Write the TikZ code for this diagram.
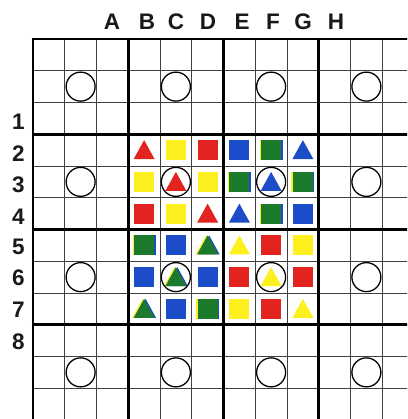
\documentclass[tikz,border=0pt]{standalone}
\usepackage{fontspec}
\setmainfont{Liberation Sans}
\definecolor{rd}{HTML}{E3231F}
\definecolor{yl}{HTML}{FDF01E}
\definecolor{bl}{HTML}{1D4CC9}
\definecolor{gn}{HTML}{1B7A2B}
\newcommand\SetCell[2]{\pgfmathsetmacro\px{33+31.75*(#1+0.5)}\pgfmathsetmacro\py{39+31.75*(#2+0.5)}}
\newcommand\Sq[3]{\SetCell{#1}{#2}\fill[#3,shift={(\px,\py)}] (-10,-10) rectangle (10,10);}
\newcommand\Tr[3]{\SetCell{#1}{#2}\fill[#3,shift={(\px,\py)}] (-10.5,9) -- (10.5,9) -- (0,-10) -- cycle;}
\newcommand\GSq[2]{\SetCell{#1}{#2}%
 \fill[yl,shift={(\px,\py)}] (-11.5,-10) rectangle (8.5,10);
 \fill[bl,shift={(\px,\py)}] (-8.5,-10) rectangle (11.5,10);
 \fill[gn,shift={(\px,\py)}] (-10,-10) rectangle (10,10);}
\newcommand\GTr[2]{\SetCell{#1}{#2}%
 \fill[yl,shift={(\px,\py)}] (-12,9) -- (9,9) -- (-1.5,-10) -- cycle;
 \fill[bl,shift={(\px,\py)}] (-9,9) -- (12,9) -- (1.5,-10) -- cycle;
 \fill[gn,shift={(\px,\py)}] (-10.5,9) -- (10.5,9) -- (0,-10) -- cycle;}
\tikzset{
 thinline/.style={line width=0.9pt,black!75},
 thickline/.style={line width=2.8pt,black},
 ring/.style={draw=black,line width=1.3pt},
 lab/.style={font=\fontsize{22.5}{22.5}\selectfont\bfseries,inner sep=0pt,text=black!90}
}
\begin{document}
\begin{tikzpicture}[x=1pt,y=-1pt]
\useasboundingbox (0,0) rectangle (407,419);
\fill[white] (0,0) rectangle (407,419);
\begin{scope}
\clip (0,0) rectangle (407,419);
% thin grid
\foreach \i in {0,...,12}{
  \draw[thinline] ({33+31.75*\i},39) -- ({33+31.75*\i},430);
  \draw[thinline] (33,{39+31.75*\i}) -- (420,{39+31.75*\i});
}
% shapes: block (rows 3-5, cols 3-5)
\Tr{3}{3}{rd} \Sq{4}{3}{yl} \Sq{5}{3}{rd}
\Sq{3}{4}{yl} \Tr{4}{4}{rd} \Sq{5}{4}{yl}
\Sq{3}{5}{rd} \Sq{4}{5}{yl} \Tr{5}{5}{rd}
% block rows 3-5, cols 6-8
\Sq{6}{3}{bl} \GSq{7}{3} \Tr{8}{3}{bl}
\GSq{6}{4} \Tr{7}{4}{bl} \GSq{8}{4}
\Tr{6}{5}{bl} \GSq{7}{5} \Sq{8}{5}{bl}
% block rows 6-8, cols 3-5
\GSq{3}{6} \Sq{4}{6}{bl} \GTr{5}{6}
\Sq{3}{7}{bl} \GTr{4}{7} \Sq{5}{7}{bl}
\GTr{3}{8} \Sq{4}{8}{bl} \GSq{5}{8}
% block rows 6-8, cols 6-8
\Tr{6}{6}{yl} \Sq{7}{6}{rd} \Sq{8}{6}{yl}
\Sq{6}{7}{rd} \Tr{7}{7}{yl} \Sq{8}{7}{rd}
\Sq{6}{8}{yl} \Sq{7}{8}{rd} \Tr{8}{8}{yl}
% circles
\foreach \c in {1,4,7,10}{
  \foreach \r in {1,4,7,10}{
    \draw[ring] ({33+31.75*(\c+0.5)},{39+31.75*(\r+0.5)}) circle (14.5);
  }
}
% thick grid
\foreach \i in {0,3,6,9,12}{
  \draw[thickline] ({33+31.75*\i},37.6) -- ({33+31.75*\i},430);
  \draw[thickline] (31.6,{39+31.75*\i}) -- (420,{39+31.75*\i});
}
\end{scope}
% column labels
\foreach \t/\x in {A/112,B/147,C/176,D/208,E/242,F/273,G/303,H/336}{
  \node[lab] (col\t) at (\x,21.5) {\t};
}
% row labels
\foreach \t/\y in {1/122,2/154,3/185,4/217,5/247,6/278,7/310,8/342}{
  \node[lab] (row\t) at (18.5,\y) {\t};
}
\end{tikzpicture}
\end{document}
